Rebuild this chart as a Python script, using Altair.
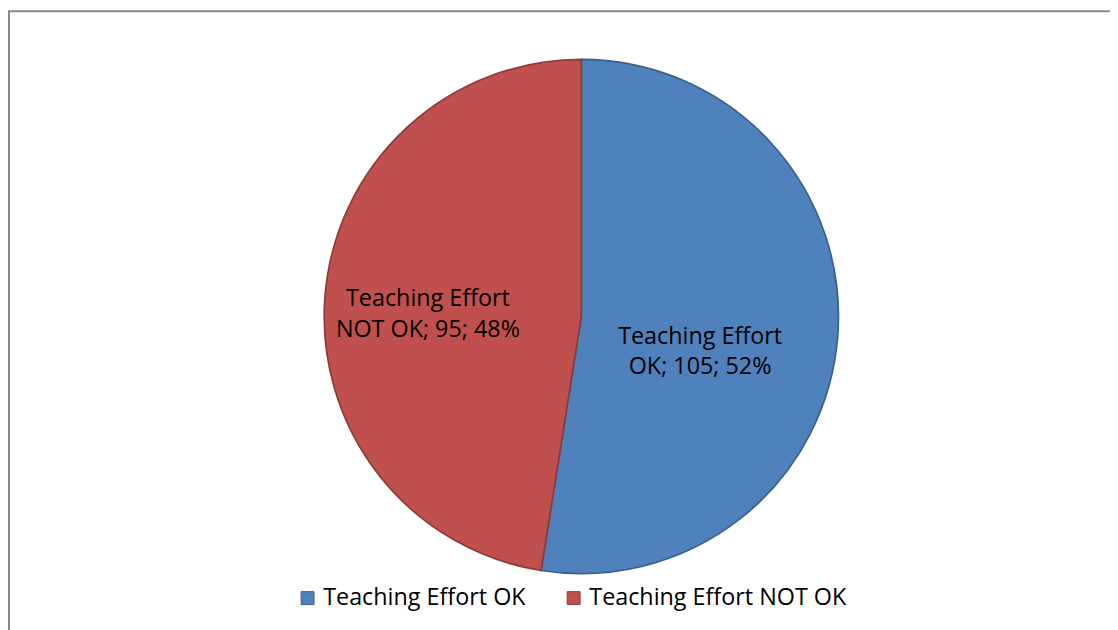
import altair as alt
import pandas as pd

categories = ["Teaching Effort OK", "Teaching Effort NOT OK"]
values = [105, 95]
percents = ["52%", "48%"]
fill_colors = ["#4F81BD", "#C0504D"]
stroke_colors = ["#3A5F8C", "#8E3A37"]

labels = []
for c, v, p in zip(categories, values, percents):
    words = c.split(" ")
    labels.append(" ".join(words[:2]) + "\n" + " ".join(words[2:]) + "; " + str(v) + "; " + p)

df = pd.DataFrame({
    "category": categories,
    "value": values,
    "order": list(range(len(categories))),
    "label": labels,
})

FONT = "Open Sans"
FSIZE = 23.5
CX, CY, R = 577.5, 308.5, 259

legend_opts = dict(
    title=None,
    orient="none",
    direction="horizontal",
    legendX=290,
    legendY=580,
    padding=0,
    symbolType="square",
    symbolSize=169,
    symbolStrokeWidth=1,
    labelFont=FONT,
    labelFontSize=FSIZE,
    labelColor="#000000",
    labelOffset=4,
    columnPadding=36,
    labelLimit=400,
)

base = alt.Chart(df).encode(
    theta=alt.Theta("value:Q", stack=True),
    order=alt.Order("order:Q", sort="ascending"),
)

pie = base.mark_arc(radius=R, strokeWidth=1.7).encode(
    x=alt.value(CX),
    y=alt.value(CY),
    fill=alt.Fill(
        "category:N",
        scale=alt.Scale(domain=categories, range=fill_colors),
        legend=alt.Legend(**legend_opts),
    ),
    stroke=alt.Stroke(
        "category:N",
        scale=alt.Scale(domain=categories, range=stroke_colors),
        legend=alt.Legend(**legend_opts),
    ),
)

text_ok = base.mark_text(
    radius=125, dx=-5, dy=10.5, font=FONT, fontSize=FSIZE, color="#000000",
    lineBreak="\n", lineHeight=31, align="center", baseline="middle",
).encode(
    x=alt.value(CX), y=alt.value(CY), text="label:N",
    opacity=alt.condition(alt.datum.order == 0, alt.value(1), alt.value(0)),
)

text_not = base.mark_text(
    radius=150, dx=-5, dy=-5.5, font=FONT, fontSize=FSIZE, color="#000000",
    lineBreak="\n", lineHeight=31, align="center", baseline="middle",
).encode(
    x=alt.value(CX), y=alt.value(CY), text="label:N",
    opacity=alt.condition(alt.datum.order == 1, alt.value(1), alt.value(0)),
)

frame_data = alt.Data(values=[{"k": 1}])
border_left = alt.Chart(frame_data).mark_rule(color="#888888", strokeWidth=2).encode(
    x=alt.value(1), y=alt.value(1), y2=alt.value(700)
)
border_top = alt.Chart(frame_data).mark_rule(color="#888888", strokeWidth=2).encode(
    x=alt.value(0), x2=alt.value(1300), y=alt.value(1)
)

chart = alt.layer(pie, text_ok, text_not, border_left, border_top).properties(
    width=1110,
    height=622,
    autosize=alt.AutoSizeParams(type="none"),
    padding=0,
    background="#ffffff",
).configure_view(stroke=None)

chart.save("out.html", embed_options={"renderer": "svg", "actions": False})
